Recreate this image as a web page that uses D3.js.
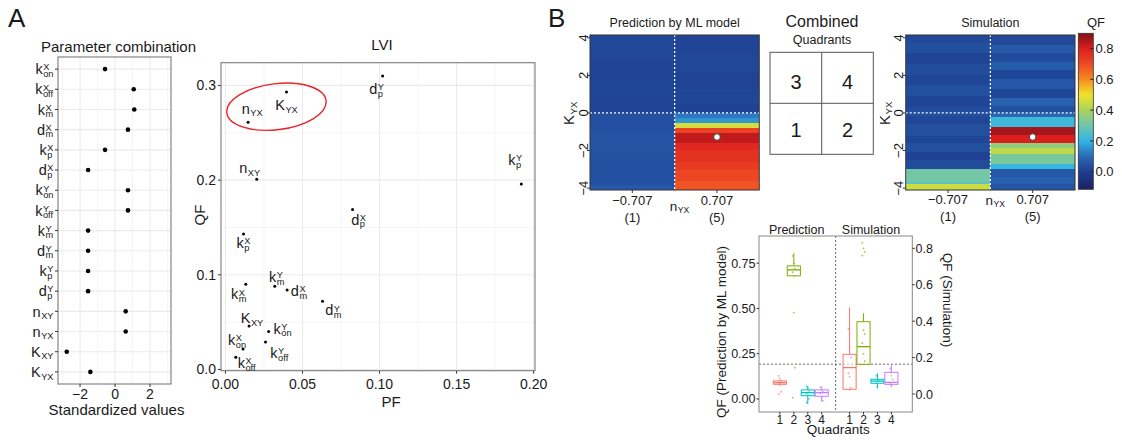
<!DOCTYPE html>
<html>
<head>
<meta charset="utf-8">
<script src="https://cdn.jsdelivr.net/npm/d3@7"></script>
<style>
  body { margin: 0; background: #fff; }
  svg { font-family: "Liberation Sans", Arial, Helvetica, sans-serif; }
</style>
</head>
<body>
<svg id="fig" width="1122" height="440"></svg>
<script>
// ---------- data ----------
// parameter keys: base_sub^sup
var params = ["k_on^X", "k_off^X", "k_m^X", "d_m^X", "k_p^X", "d_p^X",
              "k_on^Y", "k_off^Y", "k_m^Y", "d_m^Y", "k_p^Y", "d_p^Y",
              "n_XY", "n_YX", "K_XY", "K_YX"];
var stdValues = [-0.57, 1.07, 1.1, 0.74, -0.57, -1.54,
                 0.74, 0.74, -1.54, -1.54, -1.54, -1.54,
                 0.61, 0.61, -2.76, -1.41];
var stdTicks = [-2, 0, 2];

var lviPF = [0.0114, 0.0067, 0.0132, 0.040, 0.0117, 0.0825,
             0.028, 0.026, 0.032, 0.063, 0.192, 0.102,
             0.0203, 0.0147, 0.0153, 0.0396];
var lviQF = [0.0216, 0.013, 0.090, 0.084, 0.143, 0.169,
             0.040, 0.029, 0.088, 0.072, 0.196, 0.310,
             0.201, 0.261, 0.046, 0.293];
var pfTicks = [0, 0.05, 0.10, 0.15, 0.20];
var qfTicks = [0, 0.1, 0.2, 0.3];

// heatmap bands: [K_YX low, K_YX high, QF]
var nyxLevels = ["\u22120.707", "0.707"];
var nyxCodes = ["(1)", "(5)"];
var kyxTicks = [-4, -2, 0, 2, 4];
var predLeft = [[-4.1, -3.85, 0.06], [-3.85, -2.4, 0.045], [-2.4, -1.0, 0.048], [-1.0, 0, 0.042],
                [0, 0.9, 0.015], [0.9, 1.8, 0.02], [1.8, 2.9, 0.016], [2.9, 4.15, 0.022]];
var predRight = [[-4.1, -3.6, 0.685], [-3.6, -3.04, 0.71], [-3.04, -2.6, 0.735], [-2.6, -1.97, 0.755],
                 [-1.97, -1.6, 0.78], [-1.6, -1.04, 0.83], [-1.04, -0.8, 0.72], [-0.8, -0.52, 0.46],
                 [-0.52, -0.27, 0.16], [-0.27, 0, 0.12], [0, 0.5, 0.012], [0.5, 1.3, 0.02],
                 [1.3, 2.2, 0.014], [2.2, 3.2, 0.022], [3.2, 4.15, 0.017]];
var simLeft = [[-4.1, -3.77, 0.45], [-3.77, -3.68, 0.27], [-3.68, -2.97, 0.31], [-2.97, -2.5, 0.03],
               [-2.5, -2.1, 0.012], [-2.1, -1.6, 0.04], [-1.6, -1.2, 0.02], [-1.2, -0.6, 0.04],
               [-0.6, -0.2, 0.02], [-0.2, 0.3, 0.035], [0.3, 0.9, 0.015], [0.9, 1.5, 0.04],
               [1.5, 2.0, 0.02], [2.0, 2.6, 0.035], [2.6, 3.2, 0.015], [3.2, 3.7, 0.04], [3.7, 4.15, 0.025]];
var simRight = [[-4.1, -3.8, 0.05], [-3.8, -3.4, 0.08], [-3.4, -2.96, 0.06], [-2.96, -2.7, 0.21],
                [-2.7, -2.16, 0.32], [-2.16, -1.89, 0.43], [-1.89, -1.59, 0.36], [-1.59, -1.17, 0.8],
                [-1.17, -0.75, 0.86], [-0.75, -0.23, 0.22], [-0.23, 0, 0.09], [0, 0.35, 0.04],
                [0.35, 0.8, 0.08], [0.8, 1.3, 0.02], [1.3, 1.8, 0.06], [1.8, 2.3, 0.02],
                [2.3, 2.7, 0.07], [2.7, 3.2, 0.03], [3.2, 3.6, 0.065], [3.6, 4.15, 0.025]];
var chosenKYX = -1.28;
var cbTicks = [0, 0.2, 0.4, 0.6, 0.8];

// boxplots by quadrant
var quadrants = ["1", "2", "3", "4"];
var predLow  = [0.072, 0.676, -0.028, -0.015];
var predQ1   = [0.081, 0.68, 0.018, 0.015];
var predMed  = [0.09, 0.713, 0.035, 0.035];
var predQ3   = [0.0995, 0.735, 0.05, 0.05];
var predHigh = [0.108, 0.805, 0.072, 0.068];
var predPts = [[0.127, 0.114, 0.1, 0.09, 0.085, 0.04, 0.026],
               [0.79, 0.75, 0.72, 0.70, 0.477, 0.173, 0.007],
               [0.07, 0.06, 0.045, 0.03, 0.02, 0.0, -0.02],
               [0.065, 0.05, 0.04, 0.03, 0.01, -0.01]];
var simLow  = [0.018, 0.163, 0.031, 0.037];
var simQ1   = [0.026, 0.163, 0.059, 0.053];
var simMed  = [0.145, 0.26, 0.071, 0.064];
var simQ3   = [0.218, 0.397, 0.081, 0.119];
var simHigh = [0.476, 0.443, 0.114, 0.159];
var simPts = [[0.357, 0.26, 0.2, 0.114, 0.095, 0.035],
              [0.83, 0.80, 0.78, 0.76, 0.35, 0.33, 0.28, 0.22, 0.18],
              [0.1, 0.08, 0.07, 0.06, 0.04],
              [0.14, 0.1, 0.08, 0.06, 0.05]];
var predTicks = [0, 0.25, 0.5, 0.75];
var simTicks = [0, 0.2, 0.4, 0.6, 0.8];
var threshold = 0.192;

// ---------- styles ----------
var INK = "#1a1a1a", TICK = "#333", GRID = "#ebebeb", BORDER = "#7a7a7a";
var boxColors = ["#F8766D", "#7CAE00", "#00BFC4", "#C77CFF"];
var qfColor = d3.scaleLinear()
    .domain([-0.11, 0, 0.1, 0.2, 0.3, 0.4, 0.5, 0.6, 0.7, 0.8, 0.9])
    .range(["#1c2265", "#1e3d90", "#2a6ab5", "#33b4e6", "#6ec6ae", "#a9d35a",
            "#efe42a", "#f68a20", "#ee4a22", "#dc1e1f", "#7f1015"])
    .clamp(true);

var svg = d3.select("#fig");
var fmtMinus = function(v) { return String(v).replace("-", "\u2212"); };

// one text element with stacked sub/superscript tspans, baseline at y=0, left edge at x=0
function mathText(parent, key, size) {
  var m = key.match(/^([A-Za-z])(?:_([A-Za-z]+))?(?:\^([A-Za-z]+))?$/);
  var t = parent.append("text").attr("font-size", size).attr("fill", INK);
  t.append("tspan").text(m[1]);
  var bw = t.node().getComputedTextLength();
  var small = size * 0.64;
  if (m[3]) t.append("tspan").attr("x", bw + 0.5).attr("y", -size * 0.27).attr("font-size", small).text(m[3]);
  if (m[2]) t.append("tspan").attr("x", bw + 0.5).attr("y", size * 0.17).attr("font-size", small).text(m[2]);
  var bb = t.node().getBBox();
  return { g: t, width: bb.x + bb.width };
}

function txt(x, y, s, size, anchor) {
  return svg.append("text").attr("x", x).attr("y", y).attr("font-size", size)
    .attr("fill", INK).attr("text-anchor", anchor || "middle").text(s);
}

// ---------- panel labels ----------
txt(8, 27, "A", 26, "start");
txt(548, 27, "B", 26, "start");

// ---------- A: parameter combination dot plot ----------
var dx = d3.scaleLinear().domain([-3.26, 3.2]).range([58, 171]);
var dy = d3.scalePoint().domain(params).range([57, 384]).padding(0.6);
var dot = svg.append("g");

dot.selectAll("line.minor").data([-3, -1, 1, 3]).enter().append("line")
  .attr("x1", function(d) { return dx(d); }).attr("x2", function(d) { return dx(d); })
  .attr("y1", 57).attr("y2", 384).attr("stroke", "#f2f2f2").attr("stroke-width", 0.8);
dot.selectAll("line.vmaj").data(stdTicks).enter().append("line")
  .attr("x1", function(d) { return dx(d); }).attr("x2", function(d) { return dx(d); })
  .attr("y1", 57).attr("y2", 384).attr("stroke", GRID).attr("stroke-width", 1.1);
dot.selectAll("line.hmaj").data(params).enter().append("line")
  .attr("x1", 58).attr("x2", 171)
  .attr("y1", function(d) { return dy(d); }).attr("y2", function(d) { return dy(d); })
  .attr("stroke", GRID).attr("stroke-width", 1.1);
dot.append("rect").attr("x", 58).attr("y", 57).attr("width", 113).attr("height", 327)
  .attr("fill", "none").attr("stroke", BORDER).attr("stroke-width", 1.1);
dot.selectAll("circle").data(params).enter().append("circle")
  .attr("cx", function(d, i) { return dx(stdValues[i]); })
  .attr("cy", function(d) { return dy(d); })
  .attr("r", 2.3).attr("fill", "#000");

params.forEach(function(p) {
  var y = dy(p);
  dot.append("line").attr("x1", 55).attr("x2", 58).attr("y1", y).attr("y2", y).attr("stroke", TICK);
  var lab = mathText(dot, p, 14.5);
  lab.g.attr("transform", "translate(" + (53.5 - lab.width) + "," + (y + 5.2) + ")");
});
stdTicks.forEach(function(t) {
  dot.append("line").attr("x1", dx(t)).attr("x2", dx(t)).attr("y1", 384).attr("y2", 387).attr("stroke", TICK);
  txt(dx(t), 398.5, fmtMinus(t), 14);
});
txt(118.5, 51.5, "Parameter combination", 15);
txt(116.5, 415, "Standardized values", 15);

// ---------- A: LVI scatter ----------
var lx = d3.scaleLinear().domain([-0.0029, 0.2009]).range([221, 535]);
var ly = d3.scaleLinear().domain([-0.0013, 0.324]).range([370.7, 62.7]);
var lvi = svg.append("g");

[0.025, 0.075, 0.125, 0.175].forEach(function(v) {
  lvi.append("line").attr("x1", lx(v)).attr("x2", lx(v)).attr("y1", 62.7).attr("y2", 370.7)
    .attr("stroke", "#f2f2f2").attr("stroke-width", 0.8);
});
[0.05, 0.15, 0.25].forEach(function(v) {
  lvi.append("line").attr("y1", ly(v)).attr("y2", ly(v)).attr("x1", 221).attr("x2", 535)
    .attr("stroke", "#f2f2f2").attr("stroke-width", 0.8);
});
pfTicks.forEach(function(v) {
  lvi.append("line").attr("x1", lx(v)).attr("x2", lx(v)).attr("y1", 62.7).attr("y2", 370.7)
    .attr("stroke", GRID).attr("stroke-width", 1.1);
  lvi.append("line").attr("x1", lx(v)).attr("x2", lx(v)).attr("y1", 370.7).attr("y2", 373.7).attr("stroke", TICK);
  txt(lx(v), 388.5, d3.format(".2f")(v), 14);
});
qfTicks.forEach(function(v) {
  lvi.append("line").attr("y1", ly(v)).attr("y2", ly(v)).attr("x1", 221).attr("x2", 535)
    .attr("stroke", GRID).attr("stroke-width", 1.1);
  lvi.append("line").attr("y1", ly(v)).attr("y2", ly(v)).attr("x1", 218).attr("x2", 221).attr("stroke", TICK);
  txt(216, ly(v) + 5, d3.format(".1f")(v), 14, "end");
});
lvi.append("rect").attr("x", 221).attr("y", 62.7).attr("width", 314).attr("height", 308)
  .attr("fill", "none").attr("stroke", BORDER).attr("stroke-width", 1.1);

// label nudges (px from point to label centre)
var lviNudge = {
  "k_on^X": [-6, -9], "k_off^X": [11, 6], "k_m^X": [-7, 10], "d_m^X": [12, 1],
  "k_p^X": [0, 9], "d_p^X": [6, 10], "k_on^Y": [14, -3], "k_off^Y": [14, 11],
  "k_m^Y": [2, -9], "d_m^Y": [11, 9], "k_p^Y": [-6, -24], "d_p^Y": [-6, 13],
  "n_XY": [-7, -11], "n_YX": [4, -14], "K_XY": [3, -8], "K_YX": [0, 13]
};
params.forEach(function(p, i) {
  var px = lx(lviPF[i]), py = ly(lviQF[i]);
  lvi.append("circle").attr("cx", px).attr("cy", py).attr("r", 1.5).attr("fill", "#000");
  var lab = mathText(lvi, p, 14.5);
  var n = lviNudge[p];
  lab.g.attr("transform", "translate(" + (px + n[0] - lab.width / 2) + "," + (py + n[1] + 5.2) + ")");
});
// highlight ellipse around n_YX / K_YX
lvi.append("ellipse")
  .attr("transform", "translate(" + lx(0.0331) + "," + ly(0.2775) + ") rotate(-7)")
  .attr("rx", 50).attr("ry", 23)
  .attr("fill", "none").attr("stroke", "#e8262a").attr("stroke-width", 1.4);

txt(382, 50, "LVI", 15);
txt(391, 406.5, "PF", 15);
svg.append("text").attr("transform", "translate(205,215) rotate(-90)")
  .attr("text-anchor", "middle").attr("font-size", 15).attr("fill", INK).text("QF");

// ---------- B: heatmaps ----------
var hy = d3.scaleLinear().domain([-4.1, 4.15]).range([190, 35]);

function heatmap(x0, x1, cols, opt) {
  var g = svg.append("g");
  var hx = d3.scaleBand().domain(nyxLevels).range([x0, x1]);
  cols.forEach(function(bands, ci) {
    g.selectAll(null).data(bands).enter().append("rect")
      .attr("x", hx(nyxLevels[ci])).attr("width", hx.bandwidth())
      .attr("y", function(d) { return hy(d[1]); })
      .attr("height", function(d) { return hy(d[0]) - hy(d[1]); })
      .attr("fill", function(d) { return qfColor(d[2]); })
      .attr("shape-rendering", "crispEdges");
  });
  var mid = hx(nyxLevels[1]);
  g.append("line").attr("x1", mid).attr("x2", mid).attr("y1", 35).attr("y2", 190)
    .attr("stroke", "#fff").attr("stroke-width", 1.2).attr("stroke-dasharray", "2,2");
  g.append("line").attr("x1", x0).attr("x2", x1).attr("y1", hy(0)).attr("y2", hy(0))
    .attr("stroke", "#fff").attr("stroke-width", 1.2).attr("stroke-dasharray", "2,2");
  g.append("circle").attr("cx", hx(nyxLevels[1]) + hx.bandwidth() / 2).attr("cy", hy(chosenKYX))
    .attr("r", 3.3).attr("fill", "#fff").attr("stroke", "#444").attr("stroke-width", 1);
  g.append("rect").attr("x", x0).attr("y", 35).attr("width", x1 - x0).attr("height", 155)
    .attr("fill", "none").attr("stroke", "#333").attr("stroke-width", 1);
  kyxTicks.forEach(function(t) {
    g.append("line").attr("x1", x0 - 3).attr("x2", x0).attr("y1", hy(t)).attr("y2", hy(t)).attr("stroke", TICK);
    g.append("text").attr("transform", "translate(" + (x0 - 2.5) + "," + hy(t) + ") rotate(-90)")
      .attr("text-anchor", "middle").attr("font-size", 13).attr("fill", INK).text(fmtMinus(t));
  });
  var kt = mathText(g, "K_YX", 15);
  kt.g.attr("transform", "translate(" + (x0 - 16) + "," + (113 + kt.width / 2) + ") rotate(-90)");
  nyxLevels.forEach(function(l, i) {
    var cx = hx(l) + hx.bandwidth() / 2;
    g.append("line").attr("x1", cx).attr("x2", cx).attr("y1", 190).attr("y2", 193).attr("stroke", TICK);
    g.append("text").attr("x", cx).attr("y", opt.tickY).attr("text-anchor", "middle")
      .attr("font-size", 13).attr("fill", INK).text(l);
    g.append("text").attr("x", cx).attr("y", opt.tickY + 16.5).attr("text-anchor", "middle")
      .attr("font-size", 13).attr("fill", INK).text(nyxCodes[i]);
  });
  var nt = mathText(g, "n_YX", 13.5);
  nt.g.attr("transform", "translate(" + (mid + 5 - nt.width / 2) + "," + opt.nY + ")");
  g.append("text").attr("x", (x0 + x1) / 2).attr("y", 27).attr("text-anchor", "middle")
    .attr("font-size", 12.5).attr("fill", INK).text(opt.title);
}
heatmap(590, 759.3, [predLeft, predRight], { title: "Prediction by ML model", tickY: 205, nY: 211 });
heatmap(905.7, 1075, [simLeft, simRight], { title: "Simulation", tickY: 204, nY: 205 });

// combined quadrant key
var qg = svg.append("g");
txt(822, 26.7, "Combined", 16);
txt(822, 44.3, "Quadrants", 12.5);
qg.append("rect").attr("x", 770).attr("y", 52.3).attr("width", 103.3).attr("height", 102)
  .attr("fill", "none").attr("stroke", "#555").attr("stroke-width", 1);
qg.append("line").attr("x1", 821.7).attr("x2", 821.7).attr("y1", 52.3).attr("y2", 154.3).attr("stroke", "#555");
qg.append("line").attr("x1", 770).attr("x2", 873.3).attr("y1", 103.3).attr("y2", 103.3).attr("stroke", "#555");
[["3", 796, 81.7], ["4", 847.5, 81.7], ["1", 796, 130], ["2", 847.5, 130]].forEach(function(q) {
  txt(q[1], q[2] + 7.3, q[0], 20);
});

// colour bar
var cbY = d3.scaleLinear().domain([-0.114, 0.899]).range([189.3, 33.3]);
var grad = svg.append("defs").append("linearGradient").attr("id", "cbgrad")
  .attr("x1", 0).attr("x2", 0).attr("y1", 1).attr("y2", 0);
d3.range(0, 1.0001, 0.02).forEach(function(f) {
  var v = cbY.domain()[0] + f * (cbY.domain()[1] - cbY.domain()[0]);
  grad.append("stop").attr("offset", f).attr("stop-color", qfColor(v));
});
svg.append("rect").attr("x", 1078.3).attr("y", 33.3).attr("width", 15).attr("height", 156)
  .attr("fill", "url(#cbgrad)").attr("stroke", "#333").attr("stroke-width", 0.8);
cbTicks.forEach(function(t) {
  svg.append("line").attr("x1", 1090.3).attr("x2", 1093.3).attr("y1", cbY(t)).attr("y2", cbY(t)).attr("stroke", "#222");
  txt(1095.5, cbY(t) + 4.6, d3.format(".1f")(t), 13, "start");
});
txt(1096, 26.7, "QF", 13);

// ---------- B: boxplots ----------
var bx = d3.scaleLinear().domain([-0.5, 10.5]).range([759, 912.3]);
var yL = d3.scaleLinear().domain([-0.072, 0.9]).range([412, 236]);
var yR = d3.scaleLinear().domain([-0.0988, 0.8676]).range([412, 236]);
var bw = (bx(1) - bx(0)) * 0.94;
var bp = svg.append("g");

bp.append("line").attr("x1", bx(5)).attr("x2", bx(5)).attr("y1", 236).attr("y2", 412)
  .attr("stroke", "#444").attr("stroke-width", 0.8).attr("stroke-dasharray", "2,2");
bp.append("line").attr("x1", 759).attr("x2", 912.3).attr("y1", yL(threshold)).attr("y2", yL(threshold))
  .attr("stroke", "#444").attr("stroke-width", 0.8).attr("stroke-dasharray", "2,2");

function boxes(low, q1, med, q3, high, pts, offset, ys) {
  quadrants.forEach(function(q, i) {
    var cx = bx(i + 1 + offset), col = boxColors[i];
    var g = bp.append("g").attr("stroke", col).attr("fill", "none");
    g.append("line").attr("x1", cx).attr("x2", cx).attr("y1", ys(high[i])).attr("y2", ys(q3[i])).attr("stroke-width", 1);
    g.append("line").attr("x1", cx).attr("x2", cx).attr("y1", ys(q1[i])).attr("y2", ys(low[i])).attr("stroke-width", 1);
    g.append("rect").attr("x", cx - bw / 2).attr("width", bw)
      .attr("y", ys(q3[i])).attr("height", Math.max(ys(q1[i]) - ys(q3[i]), 0.5))
      .attr("fill", "#fff").attr("fill-opacity", 0.6).attr("stroke-width", 1);
    g.append("line").attr("x1", cx - bw / 2).attr("x2", cx + bw / 2)
      .attr("y1", ys(med[i])).attr("y2", ys(med[i])).attr("stroke-width", 1.3);
    pts[i].forEach(function(v, j) {
      bp.append("circle").attr("cx", cx + ((j % 3) - 1) * 1.2).attr("cy", ys(v))
        .attr("r", 0.9).attr("fill", col).attr("fill-opacity", 0.7);
    });
  });
}
boxes(predLow, predQ1, predMed, predQ3, predHigh, predPts, 0, yL);
boxes(simLow, simQ1, simMed, simQ3, simHigh, simPts, 5, yR);

bp.append("rect").attr("x", 759).attr("y", 236).attr("width", 153.3).attr("height", 176)
  .attr("fill", "none").attr("stroke", "#888").attr("stroke-width", 1);

predTicks.forEach(function(t) {
  bp.append("line").attr("x1", 756.5).attr("x2", 759).attr("y1", yL(t)).attr("y2", yL(t)).attr("stroke", TICK);
  txt(755.5, yL(t) + 4.5, d3.format(".2f")(t), 12.5, "end");
});
simTicks.forEach(function(t) {
  bp.append("line").attr("x1", 912.3).attr("x2", 914.8).attr("y1", yR(t)).attr("y2", yR(t)).attr("stroke", TICK);
  txt(915.5, yR(t) + 4.5, d3.format(".1f")(t), 12.5, "start");
});
quadrants.forEach(function(q, i) {
  [0, 5].forEach(function(off) {
    bp.append("line").attr("x1", bx(i + 1 + off)).attr("x2", bx(i + 1 + off))
      .attr("y1", 412).attr("y2", 414.5).attr("stroke", TICK);
    txt(bx(i + 1 + off), 423.5, q, 12);
  });
});
txt(838.3, 433.5, "Quadrants", 13.5);
txt(796.7, 233.5, "Prediction", 12.5);
txt(871, 233.5, "Simulation", 12.5);
svg.append("text").attr("transform", "translate(726,332) rotate(-90)")
  .attr("text-anchor", "middle").attr("font-size", 13.5).attr("fill", INK).text("QF (Prediction by ML model)");
svg.append("text").attr("transform", "translate(943,300) rotate(90)")
  .attr("text-anchor", "middle").attr("font-size", 13.5).attr("fill", INK).text("QF (Simulation)");
</script>
</body>
</html>
